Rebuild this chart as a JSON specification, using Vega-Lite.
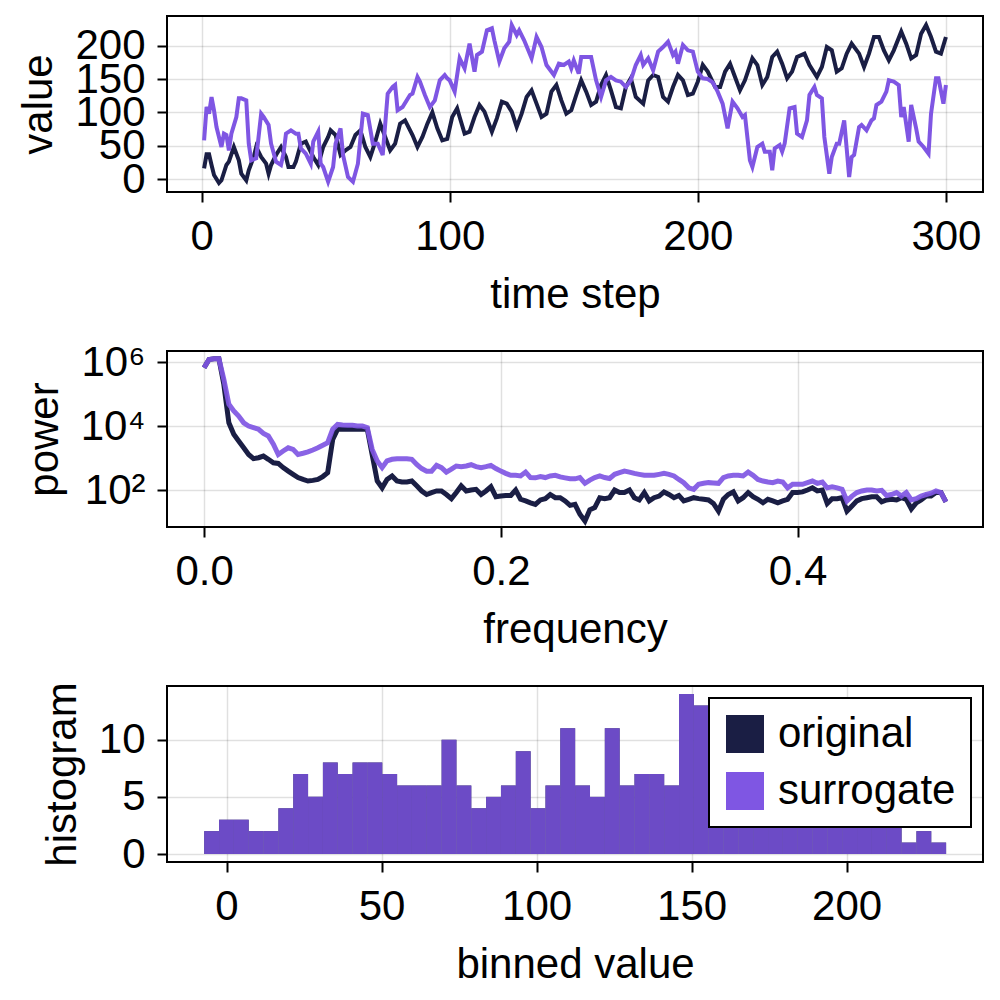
{
  "$schema": "https://vega.github.io/schema/vega-lite/v6.json",
  "background": "white",
  "padding": {"left": 16, "top": 15, "right": 0, "bottom": 0},
  "spacing": 159,
  "bounds": "flush",
  "resolve": {"scale": {"color": "independent"}, "legend": {"color": "independent"}},
  "config": {
    "font": "Liberation Sans",
    "view": {"stroke": "black", "strokeWidth": 2},
    "axis": {
      "domain": false, "tickColor": "black", "tickWidth": 2, "tickSize": 10,
      "gridColor": "black", "gridOpacity": 0.12, "gridWidth": 1.5,
      "labelFont": "Liberation Sans", "labelFontSize": 42, "labelColor": "black",
      "titleFont": "Liberation Sans", "titleFontSize": 42, "titleFontWeight": "normal", "titleColor": "black",
      "labelPadding": 12, "titlePadding": 14, "labelOverlap": false, "labelFlush": false
    },
    "axisX": {"labelPadding": 14, "titlePadding": 17},
    "legend": {
      "orient": "top-right", "offset": 12, "fillColor": "white", "strokeColor": "black", "strokeWidth": 2,
      "padding": 15, "symbolType": "square", "symbolSize": 1444, "symbolStrokeWidth": 0, "symbolOpacity": 1,
      "labelFont": "Liberation Sans", "labelFontSize": 42, "labelColor": "black", "labelOffset": 12, "rowPadding": 15, "labelLimit": 0
    }
  },
  "datasets": {
    "orig": [
      {"t":1,"v":16},{"t":2,"v":37},{"t":3,"v":37},{"t":4,"v":21},{"t":5,"v":6},{"t":7,"v":-6},{"t":8,"v":-2},{"t":10,"v":21},{"t":11,"v":26},{"t":13,"v":48},{"t":15,"v":28},{"t":16,"v":8},{"t":18,"v":-2},{"t":19,"v":13},{"t":21,"v":33},{"t":22,"v":48},{"t":24,"v":33},{"t":26,"v":23},{"t":27,"v":8},{"t":28,"v":21},{"t":30,"v":36},{"t":32,"v":48},{"t":34,"v":33},{"t":35,"v":18},{"t":37,"v":18},{"t":38,"v":26},{"t":40,"v":53},{"t":42,"v":56},{"t":43,"v":48},{"t":45,"v":33},{"t":47,"v":21},{"t":49,"v":48},{"t":51,"v":63},{"t":52,"v":73},{"t":54,"v":66},{"t":56,"v":36},{"t":58,"v":43},{"t":60,"v":48},{"t":62,"v":66},{"t":64,"v":73},{"t":66,"v":48},{"t":68,"v":33},{"t":70,"v":56},{"t":72,"v":83},{"t":74,"v":63},{"t":76,"v":43},{"t":78,"v":53},{"t":80,"v":83},{"t":82,"v":88},{"t":85,"v":66},{"t":87,"v":48},{"t":89,"v":63},{"t":91,"v":83},{"t":93,"v":100},{"t":95,"v":76},{"t":97,"v":58},{"t":99,"v":60},{"t":101,"v":93},{"t":103,"v":106},{"t":104,"v":93},{"t":106,"v":68},{"t":108,"v":71},{"t":110,"v":93},{"t":112,"v":111},{"t":114,"v":101},{"t":117,"v":71},{"t":119,"v":91},{"t":121,"v":116},{"t":123,"v":113},{"t":125,"v":101},{"t":127,"v":78},{"t":129,"v":98},{"t":131,"v":123},{"t":133,"v":133},{"t":135,"v":113},{"t":137,"v":93},{"t":139,"v":98},{"t":141,"v":131},{"t":143,"v":141},{"t":145,"v":118},{"t":147,"v":98},{"t":149,"v":103},{"t":151,"v":126},{"t":153,"v":148},{"t":155,"v":131},{"t":157,"v":111},{"t":159,"v":116},{"t":161,"v":141},{"t":163,"v":156},{"t":165,"v":133},{"t":167,"v":108},{"t":169,"v":106},{"t":171,"v":138},{"t":173,"v":151},{"t":175,"v":123},{"t":178,"v":113},{"t":180,"v":148},{"t":182,"v":156},{"t":184,"v":153},{"t":186,"v":123},{"t":188,"v":116},{"t":190,"v":138},{"t":192,"v":156},{"t":194,"v":148},{"t":196,"v":126},{"t":198,"v":128},{"t":200,"v":146},{"t":202,"v":171},{"t":204,"v":161},{"t":207,"v":138},{"t":209,"v":138},{"t":211,"v":161},{"t":213,"v":173},{"t":215,"v":153},{"t":217,"v":133},{"t":219,"v":148},{"t":222,"v":181},{"t":224,"v":171},{"t":226,"v":141},{"t":228,"v":153},{"t":230,"v":183},{"t":232,"v":191},{"t":234,"v":173},{"t":236,"v":151},{"t":238,"v":161},{"t":240,"v":183},{"t":243,"v":188},{"t":245,"v":171},{"t":248,"v":153},{"t":250,"v":168},{"t":252,"v":198},{"t":254,"v":193},{"t":256,"v":161},{"t":258,"v":166},{"t":260,"v":188},{"t":262,"v":203},{"t":265,"v":188},{"t":267,"v":168},{"t":269,"v":188},{"t":271,"v":213},{"t":273,"v":213},{"t":275,"v":193},{"t":277,"v":178},{"t":279,"v":193},{"t":282,"v":221},{"t":284,"v":203},{"t":286,"v":181},{"t":288,"v":186},{"t":290,"v":218},{"t":292,"v":231},{"t":294,"v":213},{"t":296,"v":191},{"t":298,"v":188},{"t":300,"v":213}
    ],
    "surr": [
      {"t":1,"v":58},{"t":2,"v":108},{"t":3,"v":98},{"t":4,"v":123},{"t":5,"v":103},{"t":6,"v":78},{"t":8,"v":48},{"t":9,"v":68},{"t":10,"v":66},{"t":11,"v":43},{"t":12,"v":68},{"t":14,"v":93},{"t":15,"v":121},{"t":16,"v":121},{"t":18,"v":118},{"t":19,"v":53},{"t":20,"v":28},{"t":22,"v":31},{"t":24,"v":98},{"t":25,"v":93},{"t":27,"v":81},{"t":28,"v":53},{"t":30,"v":26},{"t":32,"v":21},{"t":33,"v":38},{"t":34,"v":68},{"t":36,"v":73},{"t":38,"v":68},{"t":39,"v":68},{"t":40,"v":46},{"t":42,"v":38},{"t":44,"v":23},{"t":45,"v":56},{"t":47,"v":71},{"t":48,"v":23},{"t":49,"v":18},{"t":51,"v":-4},{"t":53,"v":18},{"t":54,"v":53},{"t":56,"v":76},{"t":57,"v":36},{"t":59,"v":3},{"t":61,"v":-4},{"t":63,"v":23},{"t":65,"v":98},{"t":67,"v":96},{"t":69,"v":53},{"t":71,"v":53},{"t":73,"v":36},{"t":75,"v":128},{"t":77,"v":138},{"t":78,"v":141},{"t":79,"v":103},{"t":81,"v":108},{"t":84,"v":126},{"t":85,"v":128},{"t":87,"v":153},{"t":88,"v":146},{"t":90,"v":126},{"t":92,"v":108},{"t":94,"v":118},{"t":96,"v":148},{"t":98,"v":156},{"t":99,"v":151},{"t":100,"v":148},{"t":102,"v":131},{"t":104,"v":181},{"t":106,"v":166},{"t":108,"v":203},{"t":110,"v":161},{"t":111,"v":186},{"t":113,"v":191},{"t":115,"v":223},{"t":117,"v":226},{"t":118,"v":208},{"t":120,"v":176},{"t":122,"v":196},{"t":124,"v":206},{"t":125,"v":231},{"t":127,"v":216},{"t":128,"v":223},{"t":130,"v":208},{"t":133,"v":181},{"t":135,"v":213},{"t":137,"v":198},{"t":139,"v":171},{"t":142,"v":156},{"t":144,"v":173},{"t":146,"v":171},{"t":148,"v":176},{"t":149,"v":166},{"t":150,"v":178},{"t":152,"v":158},{"t":153,"v":183},{"t":155,"v":183},{"t":157,"v":183},{"t":159,"v":148},{"t":161,"v":123},{"t":163,"v":148},{"t":165,"v":153},{"t":167,"v":148},{"t":169,"v":146},{"t":171,"v":138},{"t":173,"v":148},{"t":175,"v":171},{"t":177,"v":186},{"t":178,"v":171},{"t":180,"v":181},{"t":182,"v":163},{"t":184,"v":191},{"t":186,"v":198},{"t":188,"v":206},{"t":190,"v":186},{"t":191,"v":191},{"t":192,"v":173},{"t":194,"v":201},{"t":196,"v":193},{"t":198,"v":191},{"t":200,"v":161},{"t":202,"v":151},{"t":204,"v":150},{"t":206,"v":145},{"t":208,"v":131},{"t":210,"v":113},{"t":212,"v":76},{"t":214,"v":116},{"t":216,"v":106},{"t":218,"v":93},{"t":219,"v":96},{"t":221,"v":28},{"t":222,"v":18},{"t":224,"v":48},{"t":226,"v":53},{"t":227,"v":41},{"t":229,"v":41},{"t":230,"v":13},{"t":231,"v":46},{"t":233,"v":51},{"t":234,"v":41},{"t":235,"v":53},{"t":237,"v":106},{"t":239,"v":108},{"t":240,"v":68},{"t":242,"v":63},{"t":244,"v":88},{"t":245,"v":126},{"t":247,"v":138},{"t":248,"v":126},{"t":250,"v":121},{"t":251,"v":63},{"t":253,"v":8},{"t":254,"v":33},{"t":256,"v":53},{"t":257,"v":53},{"t":259,"v":88},{"t":260,"v":46},{"t":261,"v":3},{"t":262,"v":33},{"t":263,"v":36},{"t":265,"v":78},{"t":266,"v":81},{"t":268,"v":73},{"t":270,"v":88},{"t":271,"v":91},{"t":272,"v":111},{"t":274,"v":116},{"t":276,"v":131},{"t":277,"v":148},{"t":279,"v":146},{"t":281,"v":141},{"t":282,"v":93},{"t":283,"v":108},{"t":285,"v":56},{"t":286,"v":111},{"t":288,"v":76},{"t":289,"v":56},{"t":291,"v":48},{"t":293,"v":38},{"t":294,"v":98},{"t":296,"v":151},{"t":297,"v":151},{"t":299,"v":113},{"t":300,"v":141}
    ],
    "spec": [
      {"f":0,"o":6.61e5,"s":6.61e5},{"f":0.0033,"o":1.2e6,"s":1.2e6},{"f":0.0067,"o":1.26e6,"s":1.26e6},{"f":0.01,"o":1.26e6,"s":1.26e6},{"f":0.0133,"o":2.0e5,"s":2.88e5},{"f":0.0167,"o":1.26e4,"s":4.79e4},{"f":0.02,"o":5.5e3,"s":2.95e4},{"f":0.0233,"o":3.39e3,"s":2.04e4},{"f":0.0267,"o":2.09e3,"s":1.26e4},{"f":0.03,"o":1.29e3,"s":1.0e4},
      {"f":0.0333,"o":955,"s":8.91e3},{"f":0.0367,"o":1020,"s":7.94e3},{"f":0.04,"o":1150,"s":5.89e3},{"f":0.0433,"o":912,"s":4.9e3},{"f":0.0467,"o":708,"s":2.69e3},{"f":0.05,"o":676,"s":1.29e3},{"f":0.0533,"o":501,"s":1.66e3},{"f":0.0567,"o":389,"s":2.09e3},{"f":0.06,"o":309,"s":1.86e3},{"f":0.0633,"o":245,"s":1.29e3},
      {"f":0.0667,"o":214,"s":1.41e3},{"f":0.07,"o":191,"s":1.55e3},{"f":0.0733,"o":200,"s":1.78e3},{"f":0.0767,"o":214,"s":2.09e3},{"f":0.08,"o":263,"s":2.51e3},{"f":0.0833,"o":347,"s":3.02e3},{"f":0.0867,"o":3.8e3,"s":7.94e3},{"f":0.09,"o":7.94e3,"s":1.12e4},{"f":0.0933,"o":7.94e3,"s":1.07e4},{"f":0.0967,"o":7.94e3,"s":1.05e4},
      {"f":0.1,"o":7.94e3,"s":1.05e4},{"f":0.1033,"o":7.94e3,"s":1.0e4},{"f":0.1067,"o":7.94e3,"s":1.0e4},{"f":0.11,"o":7.94e3,"s":8.91e3},{"f":0.1133,"o":1.26e3,"s":1.86e3},{"f":0.1167,"o":191,"s":813},{"f":0.12,"o":117,"s":501},{"f":0.1233,"o":214,"s":813},{"f":0.1267,"o":275,"s":912},{"f":0.13,"o":191,"s":955},
      {"f":0.1333,"o":178,"s":955},{"f":0.1367,"o":178,"s":955},{"f":0.14,"o":191,"s":912},{"f":0.1433,"o":135,"s":631},{"f":0.1467,"o":93.3,"s":468},{"f":0.15,"o":72.4,"s":389},{"f":0.1533,"o":83.2,"s":389},{"f":0.1567,"o":93.3,"s":589},{"f":0.16,"o":93.3,"s":501},{"f":0.1633,"o":72.4,"s":363},
      {"f":0.1667,"o":53.7,"s":447},{"f":0.17,"o":83.2,"s":562},{"f":0.1733,"o":135,"s":537},{"f":0.1767,"o":93.3,"s":562},{"f":0.18,"o":100,"s":617},{"f":0.1833,"o":105,"s":537},{"f":0.1867,"o":72.4,"s":501},{"f":0.19,"o":93.3,"s":537},{"f":0.1933,"o":126,"s":589},{"f":0.1967,"o":61.7,"s":468},
      {"f":0.2,"o":64.6,"s":389},{"f":0.2033,"o":67.6,"s":331},{"f":0.2067,"o":67.6,"s":288},{"f":0.21,"o":100,"s":288},{"f":0.2133,"o":51.3,"s":275},{"f":0.2167,"o":45.7,"s":363},{"f":0.22,"o":39.8,"s":245},{"f":0.2233,"o":35.5,"s":240},{"f":0.2267,"o":49.0,"s":263},{"f":0.23,"o":53.7,"s":245},
      {"f":0.2333,"o":72.4,"s":275},{"f":0.2367,"o":57.5,"s":288},{"f":0.24,"o":57.5,"s":257},{"f":0.2433,"o":45.7,"s":240},{"f":0.2467,"o":33.1,"s":224},{"f":0.25,"o":35.5,"s":224},{"f":0.2533,"o":17.4,"s":245},{"f":0.2567,"o":10.7,"s":162},{"f":0.26,"o":24.0,"s":204},{"f":0.2633,"o":28.2,"s":245},
      {"f":0.2667,"o":57.5,"s":275},{"f":0.27,"o":53.7,"s":245},{"f":0.2733,"o":57.5,"s":229},{"f":0.2767,"o":100,"s":309},{"f":0.28,"o":83.2,"s":347},{"f":0.2833,"o":83.2,"s":389},{"f":0.2867,"o":100,"s":363},{"f":0.29,"o":57.5,"s":331},{"f":0.2933,"o":49.0,"s":309},{"f":0.2967,"o":83.2,"s":288},
      {"f":0.3,"o":45.7,"s":288},{"f":0.3033,"o":57.5,"s":288},{"f":0.3067,"o":64.6,"s":309},{"f":0.31,"o":87.1,"s":331},{"f":0.3133,"o":72.4,"s":309},{"f":0.3167,"o":57.5,"s":275},{"f":0.32,"o":67.6,"s":214},{"f":0.3233,"o":45.7,"s":170},{"f":0.3267,"o":51.3,"s":117},{"f":0.33,"o":57.5,"s":105},
      {"f":0.3333,"o":53.7,"s":151},{"f":0.3367,"o":51.3,"s":162},{"f":0.34,"o":49.0,"s":170},{"f":0.3433,"o":38.0,"s":166},{"f":0.3467,"o":21.9,"s":162},{"f":0.35,"o":51.3,"s":245},{"f":0.3533,"o":72.4,"s":275},{"f":0.3567,"o":87.1,"s":288},{"f":0.36,"o":45.7,"s":288},{"f":0.3633,"o":57.5,"s":275},
      {"f":0.3667,"o":83.2,"s":363},{"f":0.37,"o":61.7,"s":288},{"f":0.3733,"o":51.3,"s":214},{"f":0.3767,"o":39.8,"s":191},{"f":0.38,"o":51.3,"s":178},{"f":0.3833,"o":45.7,"s":170},{"f":0.3867,"o":39.8,"s":191},{"f":0.39,"o":45.7,"s":178},{"f":0.3933,"o":51.3,"s":117},{"f":0.3967,"o":83.2,"s":151},
      {"f":0.4,"o":83.2,"s":151},{"f":0.4033,"o":87.1,"s":151},{"f":0.4067,"o":100,"s":170},{"f":0.41,"o":117,"s":191},{"f":0.4133,"o":93.3,"s":162},{"f":0.4167,"o":100,"s":178},{"f":0.42,"o":38.0,"s":117},{"f":0.4233,"o":53.7,"s":126},{"f":0.4267,"o":53.7,"s":117},{"f":0.43,"o":57.5,"s":105},
      {"f":0.4333,"o":21.9,"s":45.7},{"f":0.4367,"o":31.6,"s":64.6},{"f":0.44,"o":45.7,"s":83.2},{"f":0.4433,"o":53.7,"s":93.3},{"f":0.4467,"o":57.5,"s":100},{"f":0.45,"o":61.7,"s":100},{"f":0.4533,"o":61.7,"s":93.3},{"f":0.4567,"o":42.7,"s":97.7},{"f":0.46,"o":49.0,"s":67.6},{"f":0.4633,"o":51.3,"s":72.4},
      {"f":0.4667,"o":49.0,"s":83.2},{"f":0.47,"o":57.5,"s":64.6},{"f":0.4733,"o":51.3,"s":83.2},{"f":0.4767,"o":25.7,"s":49.0},{"f":0.48,"o":39.8,"s":53.7},{"f":0.4833,"o":49.0,"s":64.6},{"f":0.4867,"o":64.6,"s":72.4},{"f":0.49,"o":64.6,"s":79.4},{"f":0.4933,"o":83.2,"s":93.3},{"f":0.4967,"o":83.2,"s":83.2},
      {"f":0.5,"o":42.7,"s":42.7}
    ],
    "hist": [
      {"b0":-7.20,"b1":-2.41,"n":2},{"b0":-2.41,"b1":2.37,"n":3},{"b0":2.37,"b1":7.16,"n":3},{"b0":7.16,"b1":11.94,"n":2},{"b0":11.94,"b1":16.73,"n":2},{"b0":16.73,"b1":21.52,"n":4},{"b0":21.52,"b1":26.30,"n":7},{"b0":26.30,"b1":31.09,"n":5},{"b0":31.09,"b1":35.87,"n":8},{"b0":35.87,"b1":40.66,"n":7},
      {"b0":40.66,"b1":45.45,"n":8},{"b0":45.45,"b1":50.23,"n":8},{"b0":50.23,"b1":55.02,"n":7},{"b0":55.02,"b1":59.80,"n":6},{"b0":59.80,"b1":64.59,"n":6},{"b0":64.59,"b1":69.38,"n":6},{"b0":69.38,"b1":74.16,"n":10},{"b0":74.16,"b1":78.95,"n":6},{"b0":78.95,"b1":83.73,"n":4},{"b0":83.73,"b1":88.52,"n":5},
      {"b0":88.52,"b1":93.31,"n":6},{"b0":93.31,"b1":98.09,"n":9},{"b0":98.09,"b1":102.88,"n":4},{"b0":102.88,"b1":107.66,"n":6},{"b0":107.66,"b1":112.45,"n":11},{"b0":112.45,"b1":117.24,"n":6},{"b0":117.24,"b1":122.02,"n":5},{"b0":122.02,"b1":126.81,"n":11},{"b0":126.81,"b1":131.59,"n":6},{"b0":131.59,"b1":136.38,"n":7},
      {"b0":136.38,"b1":141.17,"n":7},{"b0":141.17,"b1":145.95,"n":6},{"b0":145.95,"b1":150.74,"n":14},{"b0":150.74,"b1":155.52,"n":13},{"b0":155.52,"b1":160.31,"n":6},{"b0":160.31,"b1":165.10,"n":6},{"b0":165.10,"b1":169.88,"n":7},{"b0":169.88,"b1":174.67,"n":5},{"b0":174.67,"b1":179.45,"n":6},{"b0":179.45,"b1":184.24,"n":7},
      {"b0":184.24,"b1":189.03,"n":6},{"b0":189.03,"b1":193.81,"n":5},{"b0":193.81,"b1":198.60,"n":6},{"b0":198.60,"b1":203.38,"n":7},{"b0":203.38,"b1":208.17,"n":6},{"b0":208.17,"b1":212.96,"n":5},{"b0":212.96,"b1":217.74,"n":4},{"b0":217.74,"b1":222.53,"n":1},{"b0":222.53,"b1":227.31,"n":2},{"b0":227.31,"b1":232.10,"n":1}
    ]
  },
  "vconcat": [
    {
      "width": 816, "height": 176,
      "layer": [
        {
          "data": {"name": "orig"},
          "mark": {"type": "line", "color": "#1a1e44", "strokeWidth": 4},
          "encoding": {
            "x": {"field": "t", "type": "quantitative", "scale": {"domain": [-13.95, 314.95], "nice": false, "zero": false}, "axis": {"values": [0, 100, 200, 300], "title": "time step"}},
            "y": {"field": "v", "type": "quantitative", "scale": {"domain": [-19.5, 244.5], "nice": false, "zero": false}, "axis": {"values": [0, 50, 100, 150, 200], "title": "value"}}
          }
        },
        {
          "data": {"name": "surr"},
          "mark": {"type": "line", "color": "#7f56e3", "strokeWidth": 4},
          "encoding": {
            "x": {"field": "t", "type": "quantitative"},
            "y": {"field": "v", "type": "quantitative"}
          }
        }
      ]
    },
    {
      "width": 816, "height": 176,
      "data": {"name": "spec"},
      "layer": [
        {
          "mark": {"type": "line", "color": "#1a1e44", "strokeWidth": 5},
          "encoding": {
            "x": {"field": "f", "type": "quantitative", "scale": {"domain": [-0.025, 0.525], "nice": false, "zero": false}, "axis": {"values": [0, 0.2, 0.4], "format": ".1f", "title": "frequency"}},
            "y": {"field": "o", "type": "quantitative", "scale": {"type": "log", "domain": [6.98, 2210000], "nice": false}, "axis": {"values": [100, 10000, 1000000], "labelExpr": "datum.value == 100 ? '10²' : datum.value == 10000 ? '10⁴' : '10⁶'", "title": "power"}}
          }
        },
        {
          "mark": {"type": "line", "color": "#7f56e3", "strokeWidth": 5, "opacity": 0.92},
          "encoding": {
            "x": {"field": "f", "type": "quantitative"},
            "y": {"field": "s", "type": "quantitative"}
          }
        }
      ]
    },
    {
      "width": 816, "height": 176,
      "data": {"name": "hist"},
      "layer": [
        {
          "mark": {"type": "bar", "opacity": 1},
          "encoding": {
            "x": {"field": "b0", "type": "quantitative", "scale": {"domain": [-19.2, 244], "nice": false, "zero": false}, "axis": {"values": [0, 50, 100, 150, 200], "title": "binned value"}},
            "x2": {"field": "b1"},
            "y": {"field": "n", "type": "quantitative", "scale": {"domain": [-0.7, 14.7], "nice": false, "zero": false}, "axis": {"values": [0, 5, 10], "title": "histogram"}},
            "y2": {"datum": 0},
            "color": {"datum": "original", "type": "nominal", "scale": {"domain": ["original", "surrogate"], "range": ["#1a1e44", "#7f56e3"]}, "legend": {"title": null, "symbolOpacity": 1, "labelLimit": 0}}
          }
        },
        {
          "mark": {"type": "bar", "opacity": 0.82},
          "encoding": {
            "x": {"field": "b0", "type": "quantitative"},
            "x2": {"field": "b1"},
            "y": {"field": "n", "type": "quantitative"},
            "y2": {"datum": 0},
            "color": {"datum": "surrogate", "type": "nominal", "legend": {"title": null, "symbolOpacity": 1, "labelLimit": 0}}
          }
        }
      ]
    }
  ]
}
